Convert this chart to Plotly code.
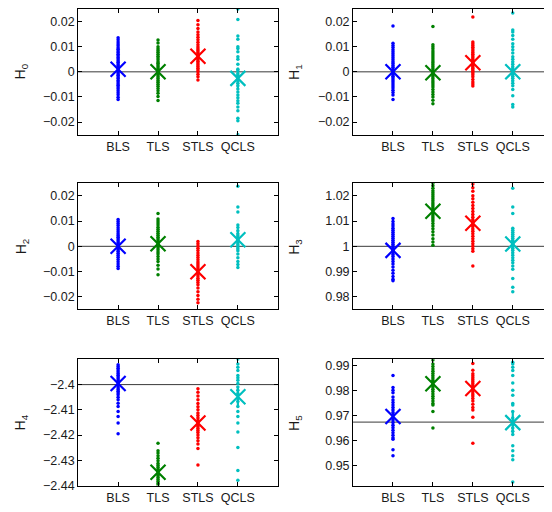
import plotly.graph_objects as go

categories = ["BLS", "TLS", "STLS", "QCLS"]
colors = ["#0000ff", "#008000", "#ff0000", "#00bfbf"]
labels = ["H<sub>0</sub>", "H<sub>1</sub>", "H<sub>2</sub>", "H<sub>3</sub>", "H<sub>4</sub>", "H<sub>5</sub>"]

# ---- H0 ----
h0_bls = [0.0136, 0.0128, 0.0119, 0.0111, 0.0104, 0.0096, 0.0090, 0.0083, 0.0077, 0.0070, 0.0064, 0.0057,
          0.0051, 0.0044, 0.0038, 0.0031, 0.0025, 0.0018, 0.0012, 0.0005, -0.0001, -0.0008, -0.0014, -0.0021,
          -0.0027, -0.0034, -0.0040, -0.0047, -0.0053, -0.0060, -0.0067, -0.0075, -0.0083, -0.0091, -0.0101, -0.0110]
h0_tls = [0.0127, 0.0115, 0.0100, 0.0092, 0.0085, 0.0078, 0.0070, 0.0062, 0.0055, 0.0048, 0.0040, 0.0034,
          0.0027, 0.0020, 0.0013, 0.0006, 0.0000, -0.0006, -0.0013, -0.0020, -0.0027, -0.0034, -0.0041, -0.0049,
          -0.0057, -0.0066, -0.0075, -0.0085, -0.0098, -0.0114]
h0_stls = [0.0204, 0.0187, 0.0172, 0.0158, 0.0148, 0.0138, 0.0128, 0.0118, 0.0108, 0.0099, 0.0091, 0.0084,
           0.0077, 0.0070, 0.0063, 0.0056, 0.0049, 0.0042, 0.0035, 0.0028, 0.0021, 0.0014, 0.0007, 0.0000,
           -0.0010, -0.0020, -0.0032]
h0_qcls = [0.0250, 0.0208, 0.0143, 0.0130, 0.0100, 0.0093, 0.0080, 0.0060, 0.0050, 0.0030, 0.0010, 0.0003,
           -0.0008, -0.0015, -0.0025, -0.0035, -0.0045, -0.0055, -0.0068, -0.0080, -0.0092, -0.0103, -0.0115,
           -0.0125, -0.0140, -0.0155, -0.0185, -0.0195, -0.0250]
h0_means = [0.0010, 0.0000, 0.0062, -0.0026]

# ---- H1 ----
h1_bls = [0.0182, 0.0114, 0.0105, 0.0097, 0.0088, 0.0080, 0.0072, 0.0064, 0.0056, 0.0048, 0.0040, 0.0033,
          0.0025, 0.0018, 0.0010, 0.0003, -0.0004, -0.0011, -0.0018, -0.0025, -0.0032, -0.0040, -0.0048,
          -0.0056, -0.0064, -0.0073, -0.0082, -0.0092, -0.0110]
h1_tls = [0.0180, 0.0108, 0.0100, 0.0092, 0.0083, 0.0075, 0.0067, 0.0059, 0.0051, 0.0043, 0.0036, 0.0028,
          0.0020, 0.0012, 0.0004, -0.0004, -0.0012, -0.0020, -0.0028, -0.0036, -0.0044, -0.0052, -0.0060,
          -0.0070, -0.0080, -0.0090, -0.0100, -0.0113, -0.0127]
h1_stls = [0.0218, 0.0119, 0.0112, 0.0105, 0.0098, 0.0091, 0.0084, 0.0077, 0.0070, 0.0063, 0.0056, 0.0049,
           0.0043, 0.0037, 0.0031, 0.0025, 0.0019, 0.0013, 0.0007, 0.0001, -0.0005, -0.0012, -0.0020, -0.0030,
           -0.0040, -0.0048, -0.0056]
h1_qcls = [0.0234, 0.0166, 0.0158, 0.0145, 0.0130, 0.0112, 0.0100, 0.0088, 0.0075, 0.0060, 0.0050, 0.0040,
           0.0030, 0.0020, 0.0012, 0.0005, -0.0003, -0.0010, -0.0018, -0.0026, -0.0035, -0.0045, -0.0055,
           -0.0070, -0.0095, -0.0130, -0.0140]
h1_means = [0.0000, -0.0004, 0.0036, 0.0000]

# ---- H2 ----
h2_bls = [0.0106, 0.0098, 0.0090, 0.0082, 0.0074, 0.0066, 0.0058, 0.0050, 0.0043, 0.0036, 0.0029, 0.0022,
          0.0015, 0.0008, 0.0001, -0.0006, -0.0013, -0.0020, -0.0027, -0.0035, -0.0043, -0.0052, -0.0061,
          -0.0070, -0.0079, -0.0088]
h2_tls = [0.0130, 0.0108, 0.0100, 0.0092, 0.0084, 0.0076, 0.0068, 0.0060, 0.0052, 0.0044, 0.0036, 0.0029,
          0.0022, 0.0015, 0.0008, 0.0001, -0.0006, -0.0014, -0.0022, -0.0030, -0.0040, -0.0050, -0.0060,
          -0.0075, -0.0090, -0.0113]
h2_stls = [0.0019, 0.0010, 0.0001, -0.0008, -0.0017, -0.0026, -0.0035, -0.0044, -0.0053, -0.0062, -0.0070,
           -0.0078, -0.0086, -0.0094, -0.0102, -0.0110, -0.0118, -0.0126, -0.0134, -0.0143, -0.0152, -0.0165,
           -0.0180, -0.0195, -0.0210, -0.0223]
h2_qcls = [0.0238, 0.0156, 0.0136, 0.0084, 0.0075, 0.0062, 0.0050, 0.0042, 0.0035, 0.0028, 0.0020, 0.0013,
           0.0006, -0.0002, -0.0010, -0.0018, -0.0030, -0.0045, -0.0060, -0.0072, -0.0084]
h2_means = [0.0000, 0.0010, -0.0101, 0.0026]

# ---- H3 ----
h3_bls = [1.0110, 1.0098, 1.0088, 1.0080, 1.0072, 1.0064, 1.0056, 1.0048, 1.0040, 1.0032, 1.0024, 1.0016,
          1.0008, 1.0000, 0.9992, 0.9984, 0.9976, 0.9968, 0.9960, 0.9950, 0.9940, 0.9930, 0.9918, 0.9905,
          0.9893, 0.9880, 0.9870, 0.9864]
h3_tls = [1.0250, 1.0240, 1.0230, 1.0220, 1.0212, 1.0204, 1.0196, 1.0188, 1.0180, 1.0172, 1.0164, 1.0156,
          1.0148, 1.0140, 1.0132, 1.0124, 1.0116, 1.0108, 1.0100, 1.0090, 1.0080, 1.0070, 1.0058, 1.0045,
          1.0030, 1.0017, 1.0004]
h3_stls = [1.0247, 1.0232, 1.0218, 1.0200, 1.0188, 1.0175, 1.0162, 1.0150, 1.0138, 1.0126, 1.0115, 1.0105,
           1.0096, 1.0087, 1.0078, 1.0069, 1.0060, 1.0050, 1.0040, 1.0030, 1.0020, 1.0010, 1.0000, 0.9990,
           0.9980, 0.9922]
h3_qcls = [1.0230, 1.0156, 1.0130, 1.0072, 1.0064, 1.0056, 1.0048, 1.0040, 1.0032, 1.0024, 1.0016, 1.0008,
           1.0000, 0.9992, 0.9984, 0.9975, 0.9965, 0.9955, 0.9945, 0.9935, 0.9922, 0.9909, 0.9873, 0.9838, 0.9820]
h3_means = [0.9984, 1.0139, 1.0091, 1.0009]

# ---- H4 ----
h4_bls = [-2.3921, -2.3928, -2.3935, -2.3942, -2.3949, -2.3956, -2.3963, -2.3970, -2.3977, -2.3984, -2.3991,
          -2.3998, -2.4005, -2.4012, -2.4019, -2.4026, -2.4033, -2.4040, -2.4050, -2.4060, -2.4074, -2.4087,
          -2.4107, -2.4126, -2.4152, -2.4195]
h4_tls = [-2.4232, -2.4262, -2.4271, -2.4282, -2.4292, -2.4302, -2.4312, -2.4320, -2.4328, -2.4336, -2.4344,
          -2.4352, -2.4360, -2.4368, -2.4376, -2.4384, -2.4392, -2.4399]
h4_stls = [-2.4016, -2.4030, -2.4045, -2.4060, -2.4075, -2.4088, -2.4100, -2.4112, -2.4122, -2.4132, -2.4142,
           -2.4150, -2.4158, -2.4166, -2.4174, -2.4182, -2.4190, -2.4200, -2.4210, -2.4222, -2.4235, -2.4253,
           -2.4318]
h4_qcls = [-2.3899, -2.3918, -2.3931, -2.3944, -2.3964, -2.3973, -2.3983, -2.3996, -2.4009, -2.4022, -2.4035,
           -2.4054, -2.4067, -2.4087, -2.4107, -2.4126, -2.4152, -2.4188, -2.4249, -2.4340, -2.4379]
h4_means = [-2.3996, -2.4347, -2.4152, -2.4048]

# ---- H5 ----
h5_bls = [0.9859, 0.9811, 0.9800, 0.9790, 0.9774, 0.9762, 0.9752, 0.9742, 0.9732, 0.9722, 0.9712, 0.9702,
          0.9692, 0.9682, 0.9672, 0.9662, 0.9652, 0.9642, 0.9632, 0.9622, 0.9612, 0.9606, 0.9564, 0.9540]
h5_tls = [0.9920, 0.9905, 0.9895, 0.9885, 0.9876, 0.9867, 0.9858, 0.9849, 0.9840, 0.9831, 0.9822, 0.9813,
          0.9804, 0.9795, 0.9786, 0.9777, 0.9768, 0.9758, 0.9748, 0.9742, 0.9716, 0.9651]
h5_stls = [0.9907, 0.9880, 0.9866, 0.9858, 0.9850, 0.9842, 0.9834, 0.9826, 0.9818, 0.9810, 0.9802, 0.9794,
           0.9786, 0.9778, 0.9768, 0.9758, 0.9745, 0.9732, 0.9722, 0.9693, 0.9590]
h5_qcls = [0.9911, 0.9905, 0.9892, 0.9879, 0.9859, 0.9829, 0.9800, 0.9781, 0.9748, 0.9742, 0.9716, 0.9690,
           0.9677, 0.9664, 0.9651, 0.9638, 0.9625, 0.9580, 0.9560, 0.9540, 0.9525, 0.9436]
h5_means = [0.9696, 0.9826, 0.9807, 0.9672]

true_values = [0.0, 0.0, 0.0, 1.0, -2.4, 0.9674]
y_ranges = [[-0.025, 0.025], [-0.025, 0.025], [-0.025, 0.025], [0.975, 1.025], [-2.44, -2.39], [0.9422, 0.9923]]

small_ticks = [-0.02, -0.01, 0, 0.01, 0.02]
small_text = ["\u22120.02", "\u22120.01", "0", "0.01", "0.02"]
h3_ticks = [0.98, 0.99, 1.0, 1.01, 1.02]
h3_text = ["0.98", "0.99", "1", "1.01", "1.02"]
h4_ticks = [-2.44, -2.43, -2.42, -2.41, -2.40]
h4_text = ["\u22122.44", "\u22122.43", "\u22122.42", "\u22122.41", "\u22122.4"]
h5_ticks = [0.95, 0.96, 0.97, 0.98, 0.99]
h5_text = ["0.95", "0.96", "0.97", "0.98", "0.99"]

panel_data = [
    [h0_bls, h0_tls, h0_stls, h0_qcls],
    [h1_bls, h1_tls, h1_stls, h1_qcls],
    [h2_bls, h2_tls, h2_stls, h2_qcls],
    [h3_bls, h3_tls, h3_stls, h3_qcls],
    [h4_bls, h4_tls, h4_stls, h4_qcls],
    [h5_bls, h5_tls, h5_stls, h5_qcls],
]
panel_means = [h0_means, h1_means, h2_means, h3_means, h4_means, h5_means]
panel_ticks = [(small_ticks, small_text), (small_ticks, small_text), (small_ticks, small_text),
               (h3_ticks, h3_text), (h4_ticks, h4_text), (h5_ticks, h5_text)]

# ---- layout geometry: page pixels of the 552x512 window; the page body adds an 8px offset ----
OFF = 8
W, H = 552 - OFF, 512 - OFF
col_px = [(78.3, 278.3), (353.7, 552.0)]
row_px = [(7.3, 135.7), (185.0, 313.3), (364.0, 492.3)]
x_ranges = [[0, 5], [0, (552.0 - 353.7) / 40.0]]
label_x_px = [22, 296]

font_family = "Liberation Sans, Arial, Helvetica, sans-serif"
tick_font = dict(family=font_family, size=12.5, color="#1a1a1a")

fig = go.Figure()
layout = dict(
    width=W, height=H,
    margin=dict(l=0, r=0, t=0, b=0, pad=0),
    paper_bgcolor="white", plot_bgcolor="white",
    showlegend=False,
    shapes=[], annotations=[],
)

def fx(px):
    return min(max((px - OFF) / W, 0.0), 1.0)

def fy(py):
    return min(max(1 - (py - OFF) / H, 0.0), 1.0)

for p in range(6):
    r, c = divmod(p, 2)
    ax = "" if p == 0 else str(p + 1)
    xref, yref = "x" + ax, "y" + ax
    x0, x1 = col_px[c]
    y0, y1 = row_px[r]
    common = dict(showline=True, linecolor="black", linewidth=1, mirror="ticks", ticks="inside",
                  ticklen=4, tickwidth=1, tickcolor="black", showgrid=False, zeroline=False,
                  tickfont=tick_font, fixedrange=True)
    layout["xaxis" + ax] = dict(domain=[fx(x0), fx(x1)], range=x_ranges[c], anchor=yref,
                                tickvals=[1, 2, 3, 4], ticktext=categories, **common)
    tv, tt = panel_ticks[p]
    layout["yaxis" + ax] = dict(domain=[fy(y1), fy(y0)], range=y_ranges[p], anchor=xref,
                                tickvals=tv, ticktext=tt, **common)

    layout["shapes"].append(dict(type="line", xref=xref + " domain", yref=yref, x0=0, x1=1,
                                 y0=true_values[p], y1=true_values[p],
                                 line=dict(color="#3a3a3a", width=1), layer="below"))
    layout["annotations"].append(dict(text=labels[p], xref="paper", yref="paper",
                                      x=fx(label_x_px[c]), y=fy((y0 + y1) / 2),
                                      textangle=-90, showarrow=False, xanchor="center", yanchor="middle",
                                      font=dict(family=font_family, size=14, color="#1a1a1a")))

    for i, vals in enumerate(panel_data[p]):
        fig.add_trace(go.Scatter(x=[i + 1] * len(vals), y=vals, mode="markers", xaxis=xref, yaxis=yref,
                                 marker=dict(size=3.5, color=colors[i], line=dict(width=0)),
                                 hoverinfo="skip"))
    for i, m in enumerate(panel_means[p]):
        for sym in ["x-thin-open", "line-ns-open"]:
            fig.add_trace(go.Scatter(x=[i + 1], y=[m], mode="markers", xaxis=xref, yaxis=yref,
                                     marker=dict(symbol=sym, size=15, color=colors[i],
                                                 line=dict(width=2.2, color=colors[i])),
                                     hoverinfo="skip"))

fig.update_layout(**layout)
fig.write_html("out.html")
